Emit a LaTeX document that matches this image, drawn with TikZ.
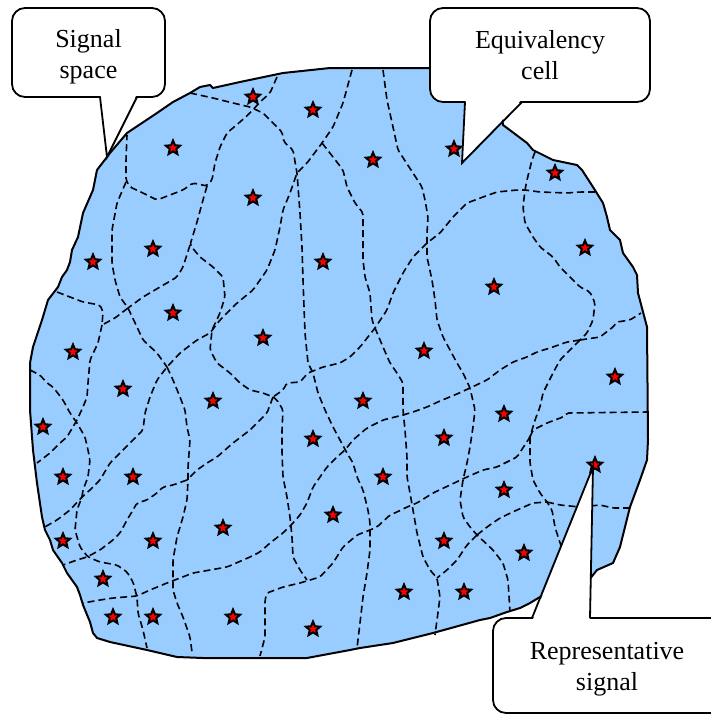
\documentclass[tikz,border=0pt]{standalone}
\usepackage{fontspec}
\setmainfont{Liberation Serif}
\usetikzlibrary{shapes.geometric}
\definecolor{cellblue}{RGB}{153,204,255}
\definecolor{starred}{RGB}{255,0,0}
\begin{document}
\begin{tikzpicture}[x=1pt,y=-1pt,
  region/.style={fill=cellblue, draw=black, line width=2pt, line join=round},
  cellline/.style={draw=black, line width=1.6pt, dash pattern=on 7pt off 4pt, rounded corners=2pt},
  sig/.style={star, star points=5, star point ratio=2.2, minimum size=15pt, inner sep=0pt, fill=starred, draw=black, line width=2pt},
  callbox/.style={fill=white, draw=black, line width=1.8pt, rounded corners=13pt},
  calloutline/.style={draw=black, line width=1.8pt, line join=miter},
  calltext/.style={font=\fontsize{26}{31}\selectfont, align=center, inner sep=0pt, text=black}
]
\useasboundingbox (0,0) rectangle (711,715);
\clip (0,0) rectangle (711,715);

% signal space region
\draw[region] (37,483) -- (33,450) -- (30,410) -- (30,363) -- (33,347) -- (42,320) -- (48,300) -- (58,287) -- (62,277) -- (67,270) -- (70,262) -- (72,250) -- (78,237) -- (83,213) -- (93,190) -- (97,170) -- (107,157) -- (110,153) -- (127,133) -- (157,113) -- (173,102) -- (190,93) -- (200,87) -- (210,85) -- (213,88) -- (240,82) -- (283,73) -- (330,68) -- (430,68) -- (480,75) -- (500,100) -- (503,125) -- (527,143) -- (533,150) -- (553,160) -- (577,165) -- (582,170) -- (593,187) -- (603,203) -- (607,217) -- (610,230) -- (620,240) -- (623,253) -- (633,267) -- (637,275) -- (638,293) -- (647,327) -- (648,440) -- (647,460) -- (640,480) -- (630,507) -- (620,547) -- (613,563) -- (597,570) -- (585,585) -- (545,596) -- (540,597) -- (530,603) -- (520,608) -- (507,612) -- (490,618) -- (480,620) -- (433,633) -- (393,643) -- (360,648) -- (350,650) -- (307,658) -- (203,658) -- (177,657) -- (147,650) -- (110,642) -- (97,638) -- (93,633) -- (90,622) -- (83,605) -- (80,595) -- (77,587) -- (67,573) -- (62,563) -- (53,550) -- (50,540) -- (45,530) -- (42,517) -- cycle;

% cell boundaries
\draw[cellline] (190,93) -- (213,98) -- (233,103) -- (250,107) -- (263,113) -- (273,123) -- (282,132) -- (284,142) -- (293,150) -- (297,173) -- (300,213) -- (302,247) -- (303,280) -- (305,333) -- (308,363) -- (313,373) -- (318,393) -- (325,410) -- (333,427) -- (340,440) -- (347,453) -- (353,463) -- (357,477) -- (363,490) -- (368,510) -- (370,523) -- (370,550) -- (367,573) -- (363,597) -- (360,623) -- (357,648);
\draw[cellline] (277,77) -- (270,93) -- (260,102) -- (250,113) -- (240,122) -- (227,133) -- (220,147) -- (215,163) -- (212,180) -- (207,186) -- (193,183) -- (183,190) -- (170,195) -- (157,200) -- (143,193) -- (130,187) -- (126,180) -- (126,160) -- (127,135);
\draw[cellline] (207,186) -- (203,200) -- (197,222) -- (190,245) -- (200,257) -- (213,267) -- (223,277) -- (225,297) -- (220,313) -- (212,330) -- (210,350) -- (217,363) -- (230,373) -- (240,383) -- (250,390) -- (263,393) -- (273,397);
\draw[cellline] (190,245) -- (183,267) -- (177,277) -- (160,287) -- (143,297) -- (128,308);
\draw[cellline] (126,182) -- (117,203) -- (112,230) -- (112,263) -- (115,280) -- (120,297) -- (128,308) -- (137,327) -- (143,340) -- (157,353) -- (167,367);
\draw[cellline] (352,70) -- (343,103) -- (333,127) -- (322,143) -- (307,163) -- (297,173) -- (290,193) -- (283,210) -- (280,227) -- (275,250) -- (267,270) -- (253,290) -- (237,303) -- (220,320) -- (210,333) -- (197,340) -- (180,353) -- (167,367) -- (157,380) -- (150,397) -- (145,413) -- (143,430) -- (133,440) -- (123,450) -- (110,463) -- (100,480) -- (90,490) -- (82,497) -- (70,510) -- (57,520) -- (43,528);
\draw[cellline] (322,143) -- (333,157) -- (343,170) -- (347,187) -- (355,203) -- (363,213) -- (363,260) -- (365,277) -- (370,293) -- (372,320) -- (375,328) -- (383,347) -- (390,363) -- (397,373) -- (403,383) -- (403,410) -- (405,430) -- (407,457) -- (407,477) -- (410,493) -- (413,510) -- (417,533) -- (423,557) -- (430,570) -- (437,578) -- (440,597) -- (437,620) -- (435,635);
\draw[cellline] (383,70) -- (387,100) -- (393,127) -- (398,150) -- (413,173) -- (422,187) -- (425,200) -- (428,217) -- (427,233) -- (427,257) -- (432,280) -- (435,300) -- (437,320) -- (443,337) -- (450,350) -- (457,363) -- (463,373) -- (470,388) -- (475,410) -- (473,427) -- (470,447) -- (467,463) -- (463,480) -- (460,500) -- (463,517) -- (470,527) -- (477,535) -- (493,550) -- (503,563) -- (508,580) -- (510,612);
\draw[cellline] (595,192) -- (580,192) -- (567,193) -- (540,192) -- (525,190) -- (517,190) -- (497,192) -- (483,197) -- (467,203) -- (453,217) -- (440,233) -- (427,243) -- (413,257) -- (403,273) -- (393,293) -- (387,310) -- (375,328) -- (360,347) -- (350,357) -- (340,363) -- (323,367) -- (308,373) -- (300,382) -- (287,383) -- (283,390) -- (273,397);
\draw[cellline] (535,152) -- (532,160) -- (527,180) -- (525,190) -- (523,207) -- (525,223) -- (533,237) -- (540,247) -- (553,257) -- (560,267) -- (570,277) -- (580,287) -- (590,292) -- (595,303) -- (593,320) -- (587,333) -- (580,340);
\draw[cellline] (580,340) -- (600,337) -- (613,327) -- (617,322) -- (630,320) -- (641,313);
\draw[cellline] (580,340) -- (567,342) -- (550,348) -- (537,352) -- (527,357) -- (513,362) -- (500,370) -- (487,380) -- (470,388) -- (457,394) -- (440,401) -- (427,407) -- (413,412) -- (403,415) -- (383,420) -- (367,428) -- (353,440) -- (345,450) -- (337,457) -- (327,467) -- (320,477) -- (313,487) -- (307,503) -- (300,515) -- (293,523) -- (283,533) -- (270,543) -- (260,552) -- (250,557) -- (227,567) -- (210,570) -- (193,573) -- (180,578) -- (167,583) -- (150,590) -- (137,596) -- (113,598) -- (100,600) -- (83,603);
\draw[cellline] (580,340) -- (573,347) -- (560,360) -- (553,373) -- (547,385) -- (543,393) -- (540,407) -- (535,420) -- (530,437) -- (517,457) -- (497,467) -- (483,470) -- (467,477) -- (450,485) -- (433,493) -- (417,503) -- (407,507) -- (397,512) -- (390,515) -- (377,527) -- (370,530) -- (357,535) -- (343,547) -- (333,563) -- (320,577) -- (300,583) -- (283,587) -- (267,593) -- (265,600) -- (265,637) -- (260,656);
\draw[cellline] (530,437) -- (533,430) -- (547,423) -- (563,417) -- (567,413) -- (648,412);
\draw[cellline] (530,437) -- (530,463) -- (533,480) -- (540,493) -- (547,502) -- (552,510) -- (555,527) -- (560,543) -- (565,555);
\draw[cellline] (547,502) -- (560,505) -- (580,507) -- (600,505) -- (613,508) -- (630,508);
\draw[cellline] (477,535) -- (487,527) -- (500,518) -- (517,510) -- (533,503) -- (547,502);
\draw[cellline] (477,535) -- (467,545) -- (457,560) -- (447,570) -- (437,578);
\draw[cellline] (273,397) -- (277,400) -- (283,410) -- (282,430) -- (282,453) -- (283,477) -- (287,497) -- (290,517) -- (292,537) -- (293,557) -- (300,570) -- (307,580);
\draw[cellline] (273,397) -- (267,413) -- (260,420) -- (250,430) -- (233,443) -- (217,457) -- (207,463) -- (197,470) -- (187,480);
\draw[cellline] (167,367) -- (173,380) -- (180,397) -- (185,410) -- (187,427) -- (190,440) -- (188,467) -- (188,480) -- (187,500) -- (183,517) -- (177,537) -- (173,560) -- (173,590) -- (177,603) -- (183,617) -- (190,637) -- (192,652);
\draw[cellline] (187,480) -- (173,485) -- (163,487) -- (157,493) -- (147,500) -- (137,503) -- (133,510) -- (127,520) -- (120,533) -- (113,540) -- (100,550) -- (87,557) -- (77,560) -- (63,565);
\draw[cellline] (30,370) -- (40,375) -- (47,383) -- (53,387) -- (63,400) -- (70,413) -- (77,423) -- (85,437) -- (88,450) -- (90,460) -- (88,477) -- (83,490) -- (82,497) -- (77,510) -- (75,530) -- (80,547) -- (88,557) -- (100,562) -- (117,565) -- (127,572) -- (133,582) -- (137,597) -- (138,613) -- (143,630) -- (147,648);
\draw[cellline] (57,292) -- (70,297) -- (83,302) -- (100,305) -- (103,312) -- (102,325);
\draw[cellline] (128,308) -- (115,318) -- (102,325);
\draw[cellline] (102,325) -- (98,343) -- (90,360) -- (88,383) -- (87,397) -- (83,407) -- (77,420) -- (67,437) -- (60,443) -- (50,453) -- (37,463);

% representative signals
\foreach \p [count=\i] in {(253,97),(313,110),(173,148),(373,160),(454,149),(555,173),(253,198),(153,249),(93,262),(323,262),(585,248),(494,287),(173,313),(263,338),(73,352),(424,351),(123,389),(213,401),(363,401),(615,377),(43,427),(313,439),(444,438),(504,414),(63,477),(133,477),(383,477),(595,465),(504,490),(333,515),(223,528),(63,541),(153,541),(444,541),(524,553),(103,579),(404,592),(464,592),(113,617),(153,617),(233,617),(313,629)}
  \node[sig] (star\i) at \p {};

% callout: signal space
\draw[callbox] (12,8) rectangle (165,97);
\fill[white] (100.6,95) -- (107,156) -- (136.4,95) -- cycle;
\coordinate (sigtip) at (107,157);
\draw[calloutline] (100,97) -- (sigtip) -- (137,97);
\node[calltext] (sigtext) at (88.5,57) {Signal\\space};

% callout: equivalency cell
\draw[callbox] (430,8) rectangle (650,102);
\fill[white] (465.6,100) -- (462,162) -- (521.4,100) -- cycle;
\coordinate (eqtip) at (462,163);
\draw[calloutline] (465,102) -- (eqtip) -- (522,102);
\node[calltext] (eqtext) at (540,55) {Equivalency\\cell};

% callout: representative signal
\draw[callbox] (493,618) rectangle (725,713);
\fill[white] (532.6,620) -- (593,469) -- (589.6,620) -- cycle;
\coordinate (reptip) at (593,467);
\draw[calloutline] (532,618) -- (reptip) -- (590,618);
\node[calltext] (reptext) at (607,669) {Representative\\signal};
\end{tikzpicture}
\end{document}
